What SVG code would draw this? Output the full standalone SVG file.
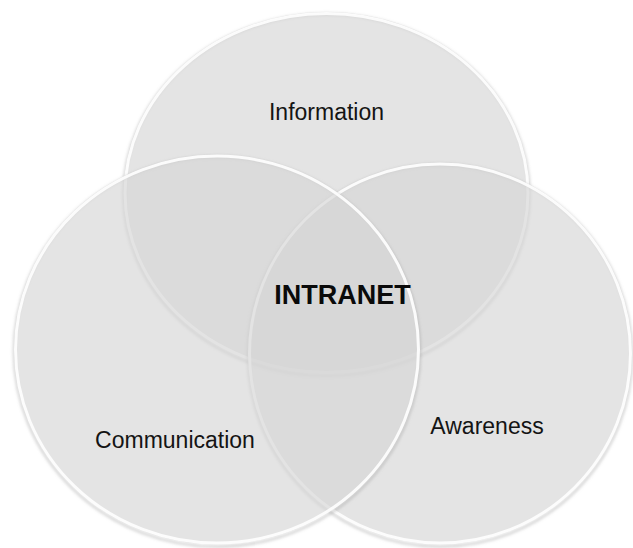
<svg xmlns="http://www.w3.org/2000/svg" width="633" height="548" viewBox="0 0 633 548">
  <defs>
    <filter id="soft" x="-10%" y="-10%" width="120%" height="120%">
      <feGaussianBlur stdDeviation="1.6"/>
    </filter>
    <filter id="edge" x="-10%" y="-10%" width="120%" height="120%">
      <feGaussianBlur stdDeviation="0.6"/>
    </filter>
  </defs>
  <style>
    .shadow { fill: none; stroke: #9a9a9a; stroke-width: 2.5; stroke-opacity: 0.45; filter: url(#soft); }
    .disc { fill: #d6d6d6; fill-opacity: 0.65; }
    .rim { fill: none; stroke: #ffffff; stroke-width: 3; stroke-opacity: 0.9; filter: url(#edge); }
    .label { font-family: "Liberation Sans", Arial, sans-serif; font-size: 23px; fill: #141414; text-anchor: middle; }
    .core { font-family: "Liberation Sans", Arial, sans-serif; font-size: 27px; font-weight: bold; fill: #0a0a0a; text-anchor: middle; }
  </style>
  <rect width="633" height="548" fill="#ffffff"/>

  <!-- Information: upper circle -->
  <g id="information">
    <ellipse class="shadow" cx="326.5" cy="195" rx="203" ry="181"/>
    <ellipse class="disc" cx="326.5" cy="193" rx="203" ry="181"/>
    <ellipse class="rim" cx="326.5" cy="193" rx="201.5" ry="179.5"/>
  </g>

  <!-- Awareness: lower right circle -->
  <g id="awareness">
    <ellipse class="shadow" cx="440" cy="355.5" rx="192" ry="191"/>
    <ellipse class="disc" cx="440" cy="353.5" rx="192" ry="191"/>
    <ellipse class="rim" cx="440" cy="353.5" rx="190.5" ry="189.5"/>
  </g>

  <!-- Communication: lower left circle -->
  <g id="communication">
    <ellipse class="shadow" cx="217" cy="351.5" rx="203" ry="195"/>
    <ellipse class="disc" cx="217" cy="349.5" rx="203" ry="195"/>
    <ellipse class="rim" cx="217" cy="349.5" rx="201.5" ry="193.5"/>
  </g>

  <!-- labels -->
  <g id="labels">
    <text class="label" x="326.5" y="119.5">Information</text>
    <text class="label" x="175" y="447.5">Communication</text>
    <text class="label" x="487" y="434">Awareness</text>
    <text id="intranet" class="core" x="342.5" y="304">INTRANET</text>
  </g>
</svg>
